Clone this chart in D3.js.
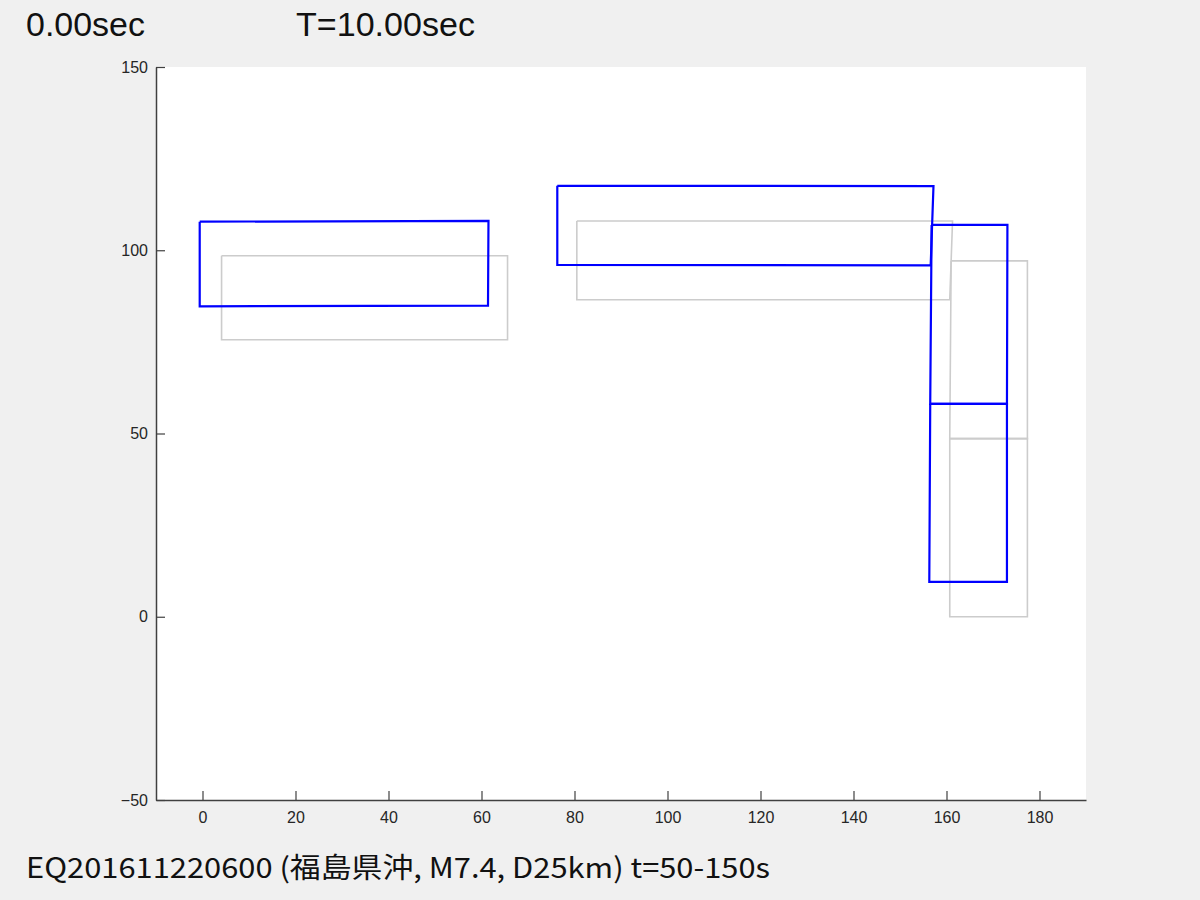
<!DOCTYPE html>
<html>
<head>
<meta charset="utf-8">
<script src="https://cdn.jsdelivr.net/npm/d3@7"></script>
<style>
  body { margin: 0; background: #f0f0f0; }
  svg { display: block; }
</style>
</head>
<body>
<div id="chart"></div>
<script>
// tick values
var xTicks = [0, 20, 40, 60, 80, 100, 120, 140, 160, 180];
var yTicks = [-50, 0, 50, 100, 150];

// fault segments before slip (gray), corners [x, y] in km
var grayFaults = [
  [[4.1, 98.5], [65.6, 98.5], [65.6, 75.6], [4.1, 75.6]],
  [[80.5, 108.0], [161.3, 108.0], [160.7, 86.5], [80.5, 86.5]],
  [[161.0, 97.1], [177.4, 97.1], [177.4, 48.6], [160.7, 48.6]],
  [[160.7, 48.6], [177.4, 48.6], [177.4, 0], [160.7, 0]]
];

// fault segments after displacement (blue)
var blueFaults = [
  [[-0.6, 107.8], [61.5, 108.0], [61.4, 84.9], [-0.6, 84.7]],
  [[76.3, 117.6], [157.2, 117.5], [156.6, 95.9], [76.3, 96.0]],
  [[156.8, 106.9], [173.1, 106.9], [173.0, 58.1], [156.5, 58.1]],
  [[156.5, 58.1], [173.0, 58.1], [173.0, 9.5], [156.3, 9.5]]
];

var elapsedLabel = "0.00sec";
var periodLabel = "T=10.00sec";
var captionLabel = "EQ201611220600 (福島県沖, M7.4, D25km) t=50-150s";

var width = 1200, height = 900;
var plot = { left: 156, right: 1086, top: 67, bottom: 800 };

var svg = d3.select("#chart").append("svg")
  .attr("width", width)
  .attr("height", height);

svg.append("rect")
  .attr("width", width)
  .attr("height", height)
  .style("fill", "#f0f0f0");

var x = d3.scaleLinear().domain([-10, 190]).range([plot.left, plot.right]);
var y = d3.scaleLinear().domain([-50, 150]).range([plot.bottom, plot.top]);

// axes background
svg.append("rect")
  .attr("x", plot.left)
  .attr("y", plot.top)
  .attr("width", plot.right - plot.left)
  .attr("height", plot.bottom - plot.top)
  .style("fill", "white");

var line = d3.line()
  .x(function(d) { return x(d[0]); })
  .y(function(d) { return y(d[1]); });

svg.selectAll(".gray")
  .data(grayFaults)
  .enter()
  .append("path")
    .attr("class", "gray")
    .attr("d", function(d) { return line(d.concat([d[0]])); })
    .style("fill", "none")
    .style("stroke", "#cccccc")
    .style("stroke-width", 1.6);

svg.selectAll(".blue")
  .data(blueFaults)
  .enter()
  .append("path")
    .attr("class", "blue")
    .attr("d", function(d) { return line(d.concat([d[0]])); })
    .style("fill", "none")
    .style("stroke", "#0000ff")
    .style("stroke-width", 2.2);

// axes, ticks inside like matlab
var xAxis = d3.axisBottom(x)
  .tickValues(xTicks)
  .tickSizeInner(-9)
  .tickSizeOuter(0)
  .tickPadding(12)
  .tickFormat(d3.format("d"));

var yAxis = d3.axisLeft(y)
  .tickValues(yTicks)
  .tickSizeInner(-9)
  .tickSizeOuter(0)
  .tickPadding(17)
  .tickFormat(function(d) { return d < 0 ? "\u2212" + Math.abs(d) : d; });

var gx = svg.append("g")
  .attr("transform", "translate(0," + plot.bottom + ")")
  .call(xAxis);
var gy = svg.append("g")
  .attr("transform", "translate(" + plot.left + ",0)")
  .call(yAxis);

[gx, gy].forEach(function(g) {
  g.select(".domain").style("stroke", "#404040").style("stroke-width", 1.5);
  g.selectAll(".tick line").style("stroke", "#404040").style("stroke-width", 1.2);
  g.selectAll(".tick text")
    .style("font-family", "'Liberation Sans', Arial, sans-serif")
    .style("font-size", "16px")
    .style("fill", "#262626");
});
gy.selectAll(".tick text").attr("x", -8).attr("dy", "0.32em");

// header texts
svg.append("text")
  .attr("x", 26)
  .attr("y", 36)
  .attr("textLength", 119)
  .attr("lengthAdjust", "spacingAndGlyphs")
  .style("font-family", "'Liberation Sans', Arial, sans-serif")
  .style("font-size", "34px")
  .style("fill", "#111")
  .text(elapsedLabel);

svg.append("text")
  .attr("x", 296)
  .attr("y", 36)
  .attr("textLength", 179)
  .attr("lengthAdjust", "spacingAndGlyphs")
  .style("font-family", "'Liberation Sans', Arial, sans-serif")
  .style("font-size", "34px")
  .style("fill", "#111")
  .text(periodLabel);

// caption
svg.append("text")
  .attr("x", 26)
  .attr("y", 878)
  .attr("textLength", 744)
  .attr("lengthAdjust", "spacingAndGlyphs")
  .style("font-family", "'Noto Sans CJK JP', sans-serif")
  .style("font-size", "28px")
  .style("fill", "#111")
  .text(captionLabel);
</script>
</body>
</html>
